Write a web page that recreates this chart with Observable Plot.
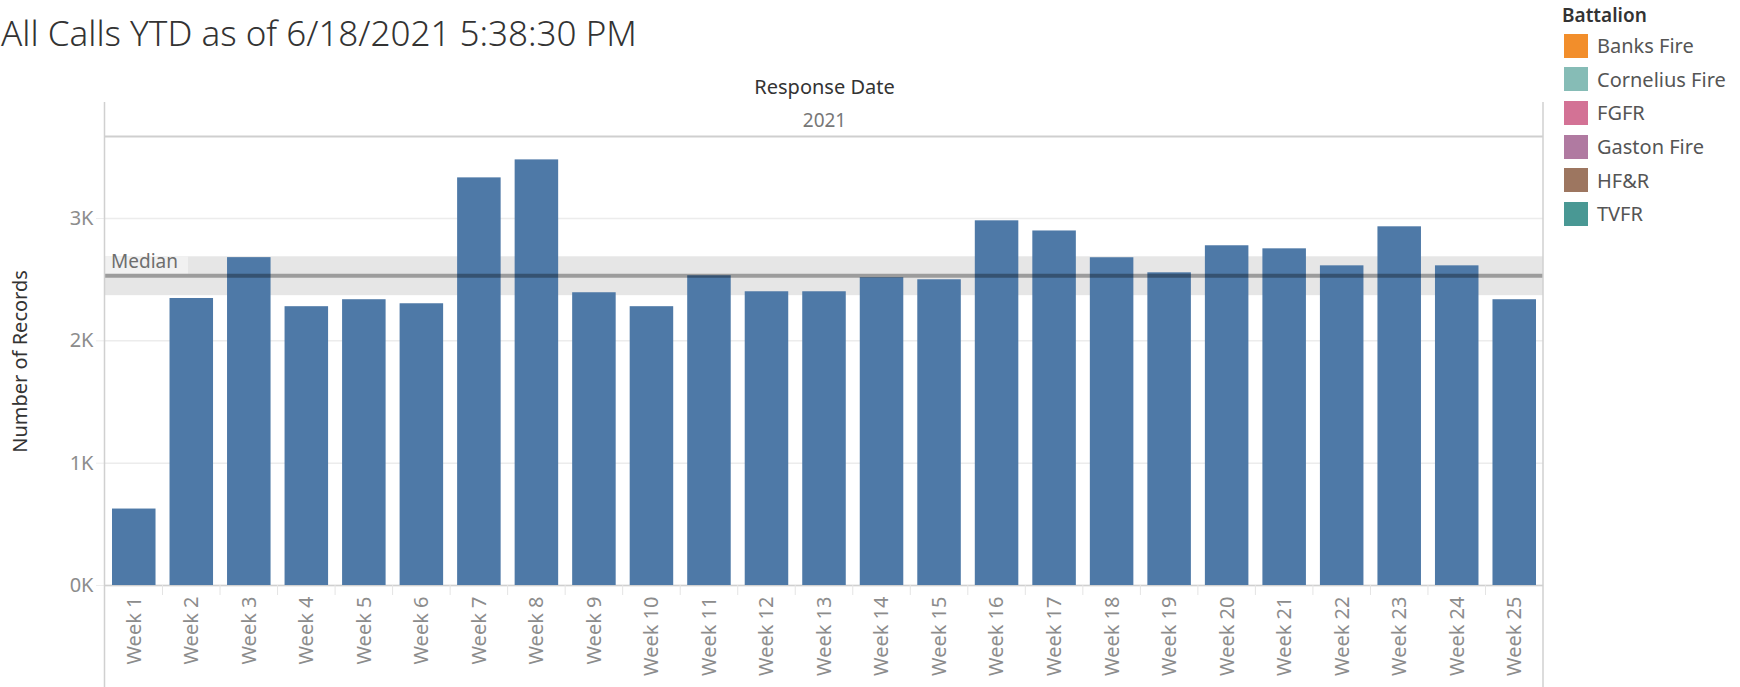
<!DOCTYPE html>
<html>
<head>
<meta charset="utf-8">
<script src="https://cdn.jsdelivr.net/npm/d3@7"></script>
<script src="https://cdn.jsdelivr.net/npm/@observablehq/plot@0.6"></script>
<style>
  html, body { margin: 0; padding: 0; background: #fff; }
  #wrap { position: relative; width: 1740px; height: 687px; overflow: hidden; font-family: "Noto Sans", sans-serif; }
  #title { position: absolute; left: 1px; top: 10px; font-size: 35px; line-height: 46px; color: #333; white-space: nowrap; font-weight: 300; }
  #chart { position: absolute; left: 0; top: 0; }
  #legend { position: absolute; left: 1562px; top: 1px; }
  #legend .lt { font-size: 19px; font-weight: 600; color: #333; height: 28px; line-height: 28px; }
  #legend .row { display: flex; align-items: center; height: 33.6px; margin-left: 2px; }
  #legend .sw { width: 24px; height: 24px; margin-right: 9px; }
  #legend .lab { font-size: 20px; color: #555; }
</style>
</head>
<body>
<div id="wrap">
  <div id="title"></div>
  <div id="chart"></div>
  <div id="legend"></div>
</div>
<script>
// ---- data ----
const titleText = "All Calls YTD as of 6/18/2021 5:38:30 PM";
const weeks = ["Week 1","Week 2","Week 3","Week 4","Week 5","Week 6","Week 7","Week 8","Week 9","Week 10",
  "Week 11","Week 12","Week 13","Week 14","Week 15","Week 16","Week 17","Week 18","Week 19","Week 20",
  "Week 21","Week 22","Week 23","Week 24","Week 25"];
const records = [625, 2346, 2680, 2279, 2336, 2303, 3332, 3479, 2393, 2279,
  2532, 2401, 2401, 2516, 2499, 2981, 2898, 2679, 2556, 2777,
  2752, 2613, 2932, 2613, 2336];
const yTicks = [0, 1000, 2000, 3000];
const yTickLabels = ["0K", "1K", "2K", "3K"];
const medianBand = [2369, 2687];
const battalions = ["Banks Fire", "Cornelius Fire", "FGFR", "Gaston Fire", "HF&R", "TVFR"];
const battalionColors = ["#F28E2B", "#86BCB6", "#D37295", "#B07AA1", "#9D7660", "#499894"];
const headerTitle = "Response Date";
const headerYear = "2021";
const yLabel = "Number of Records";

const rows = weeks.map((w, i) => ({week: w, count: records[i]}));
const median = d3.median(records);

document.getElementById("title").textContent = titleText;

const legend = document.getElementById("legend");
legend.innerHTML = `<div class="lt">Battalion</div>` + battalions.map((b, i) =>
  `<div class="row"><div class="sw" style="background:${battalionColors[i]}"></div><div class="lab"></div></div>`).join("");
legend.querySelectorAll(".lab").forEach((el, i) => el.textContent = battalions[i]);

const W = 1560, H = 687;
const mL = 105, mR = W - 1543, mT = 137, mB = H - 585;

const fontFam = '"Noto Sans", sans-serif';

// decorations drawn relative to the plot dimensions
function decorations(index, scales, values, dims) {
  const g = d3.create("svg:g");
  const left = dims.marginLeft, right = dims.width - dims.marginRight;
  const top = dims.marginTop, bottom = dims.height - dims.marginBottom;
  const x = scales.x;
  weeks.slice(1).forEach(w => {
    g.append("line").attr("x1", x(w)).attr("x2", x(w)).attr("y1", bottom).attr("y2", bottom + 10)
      .attr("stroke", "#e4e4e4").attr("stroke-width", 1);
  });
  g.append("line").attr("x1", left).attr("x2", right).attr("y1", top - 0.5).attr("y2", top - 0.5)
    .attr("stroke", "#cfcfcf").attr("stroke-width", 2);
  [left - 0.5, right].forEach(xx => {
    g.append("line").attr("x1", xx).attr("x2", xx).attr("y1", 102).attr("y2", dims.height)
      .attr("stroke", "#d0d0d0").attr("stroke-width", 1.5);
  });
  return g.node();
}

function medianLabel(index, scales, values, dims) {
  const g = d3.create("svg:g");
  const y = scales.y;
  const left = dims.marginLeft;
  const yTop = y(medianBand[1]);
  const yLine = y(median) - 2;
  g.append("rect").attr("x", left).attr("y", yTop).attr("width", 83).attr("height", yLine - yTop)
    .attr("fill", "#f1f1f1");
  g.append("text").attr("x", left + 6).attr("y", yLine - 5).text("Median")
    .attr("text-anchor", "start")
    .attr("font-size", 19).attr("fill", "#6e6e6e").attr("font-family", fontFam);
  return g.node();
}

const chart = Plot.plot({
  width: W,
  height: H,
  marginLeft: mL,
  marginRight: mR,
  marginTop: mT,
  marginBottom: mB,
  style: {fontFamily: fontFam, background: "transparent", overflow: "visible"},
  x: {domain: weeks, padding: 0, round: false, label: null},
  y: {domain: [0, 3662], label: null},
  marks: [
    Plot.gridY(yTicks, {stroke: "#ececec", strokeOpacity: 1, strokeWidth: 1.5}),
    Plot.rectY([{y1: medianBand[0], y2: medianBand[1]}], {y1: "y1", y2: "y2", fill: "#e6e6e6"}),
    Plot.ruleY([0], {stroke: "#d0d0d0", strokeWidth: 1.5}),
    Plot.axisY(yTicks, {tickSize: 9, stroke: "#ececec", tickPadding: 3, fontSize: 20, fill: "#8c8c8c",
      tickFormat: (d) => yTickLabels[yTicks.indexOf(d)], label: null}),
    Plot.axisX({tickSize: 0, tickRotate: -90, tickPadding: 11, fontSize: 20, fill: "#8c8c8c", label: null}),
    Plot.barY(rows, {x: "week", y: "count", fill: "#4E79A7", insetLeft: 7, insetRight: 7}),
    Plot.ruleY([median], {stroke: "#000", strokeOpacity: 0.32, strokeWidth: 4}),
    medianLabel,
    decorations,
    Plot.text([headerTitle], {frameAnchor: "top", dy: -58, fontSize: 20, fill: "#333"}),
    Plot.text([headerYear], {frameAnchor: "top", dy: -24, fontSize: 19, fill: "#777"}),
    Plot.text([yLabel], {frameAnchor: "left", dx: -85, rotate: -90, textAnchor: "middle", fontSize: 20, fill: "#333"})
  ]
});
document.getElementById("chart").appendChild(chart);
</script>
</body>
</html>
